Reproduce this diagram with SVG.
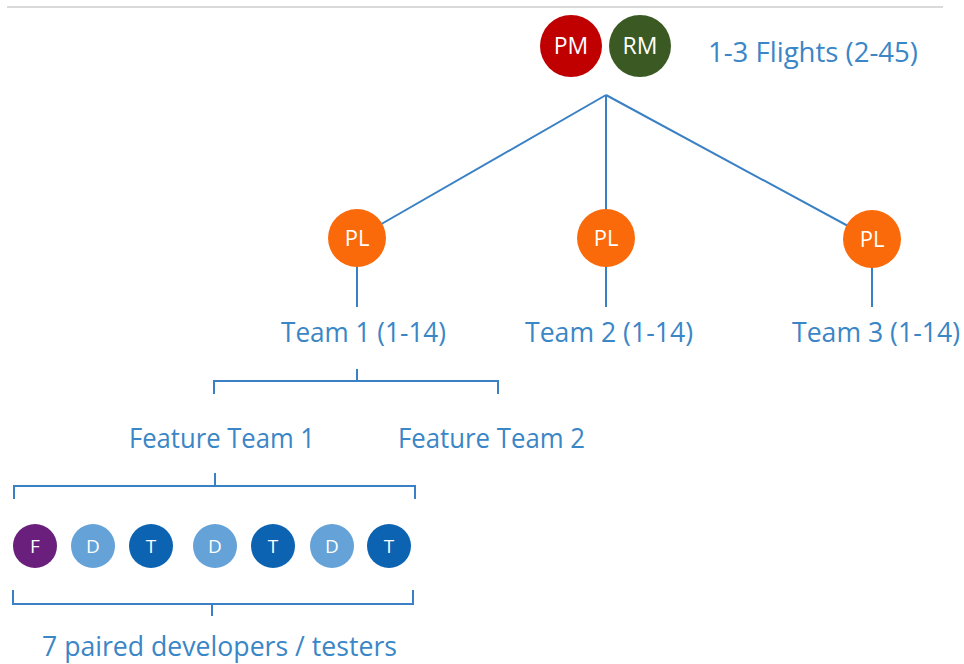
<svg xmlns="http://www.w3.org/2000/svg" width="964" height="664" viewBox="0 0 964 664">
<style>
.ln{stroke:#3a80c4;stroke-width:2;fill:none}
.lbl{font-family:"Open Sans","Liberation Sans",sans-serif;fill:#3a86c6;font-size:27px}
.cl{font-family:"Open Sans","Liberation Sans",sans-serif;fill:#ffffff;text-anchor:middle}
</style>
<rect width="964" height="664" fill="#ffffff"/>
<rect x="7" y="6" width="936" height="2" fill="#d9d9d9"/>
<g id="connectors">
<line class="ln" x1="606" y1="95" x2="357" y2="238"/>
<line class="ln" x1="606" y1="95" x2="606" y2="238"/>
<line class="ln" x1="606" y1="95" x2="872" y2="239"/>
<line class="ln" x1="357" y1="238" x2="357" y2="307"/>
<line class="ln" x1="606" y1="238" x2="606" y2="307"/>
<line class="ln" x1="872" y1="239" x2="872" y2="307"/>
<path class="ln" d="M214,394 V381 H498 V394 M357,381 V369"/>
<path class="ln" d="M14,499 V486 H415 V499 M215,486 V473"/>
<path class="ln" d="M13,590 V604 H413 V590 M212,604 V616"/>
</g>
<g id="pm"><circle cx="571" cy="46" r="31" fill="#c00000"/><text class="cl" x="571" y="54" font-size="23">PM</text></g>
<g id="rm"><circle cx="640" cy="46" r="31" fill="#3b5a23"/><text class="cl" x="640" y="54" font-size="23">RM</text></g>
<g id="flights"><text class="lbl" x="708" y="62" font-size="29" textLength="210" lengthAdjust="spacingAndGlyphs">1-3 Flights (2-45)</text></g>
<g id="pl1"><circle cx="357" cy="238" r="29" fill="#fa6a0a"/><text class="cl" x="357" y="246" font-size="22">PL</text></g>
<g id="pl2"><circle cx="606" cy="238" r="29" fill="#fa6a0a"/><text class="cl" x="606" y="246" font-size="22">PL</text></g>
<g id="pl3"><circle cx="872" cy="239" r="29" fill="#fa6a0a"/><text class="cl" x="872" y="247" font-size="22">PL</text></g>
<g id="team1"><text class="lbl" x="281" y="342" textLength="165" lengthAdjust="spacingAndGlyphs">Team 1 (1-14)</text></g>
<g id="team2"><text class="lbl" x="525" y="342" textLength="168" lengthAdjust="spacingAndGlyphs">Team 2 (1-14)</text></g>
<g id="team3"><text class="lbl" x="792" y="342" textLength="168" lengthAdjust="spacingAndGlyphs">Team 3 (1-14)</text></g>
<g id="ft1"><text class="lbl" x="129" y="448" textLength="186" lengthAdjust="spacingAndGlyphs">Feature Team 1</text></g>
<g id="ft2"><text class="lbl" x="398" y="448" textLength="187" lengthAdjust="spacingAndGlyphs">Feature Team 2</text></g>
<g id="f"><circle cx="35" cy="546" r="22" fill="#6b1f7c"/><text class="cl" x="35" y="553" font-size="19">F</text></g>
<g id="d1"><circle cx="93" cy="546" r="22" fill="#64a2d8"/><text class="cl" x="93" y="553" font-size="19">D</text></g>
<g id="t1"><circle cx="151" cy="546" r="22" fill="#0c63b1"/><text class="cl" x="151" y="553" font-size="19">T</text></g>
<g id="d2"><circle cx="215" cy="546" r="22" fill="#64a2d8"/><text class="cl" x="215" y="553" font-size="19">D</text></g>
<g id="t2"><circle cx="273" cy="546" r="22" fill="#0c63b1"/><text class="cl" x="273" y="553" font-size="19">T</text></g>
<g id="d3"><circle cx="332" cy="546" r="22" fill="#64a2d8"/><text class="cl" x="332" y="553" font-size="19">D</text></g>
<g id="t3"><circle cx="389" cy="546" r="22" fill="#0c63b1"/><text class="cl" x="389" y="553" font-size="19">T</text></g>
<g id="paired"><text class="lbl" x="42" y="656" font-size="27" textLength="355" lengthAdjust="spacingAndGlyphs">7 paired developers / testers</text></g>
</svg>
